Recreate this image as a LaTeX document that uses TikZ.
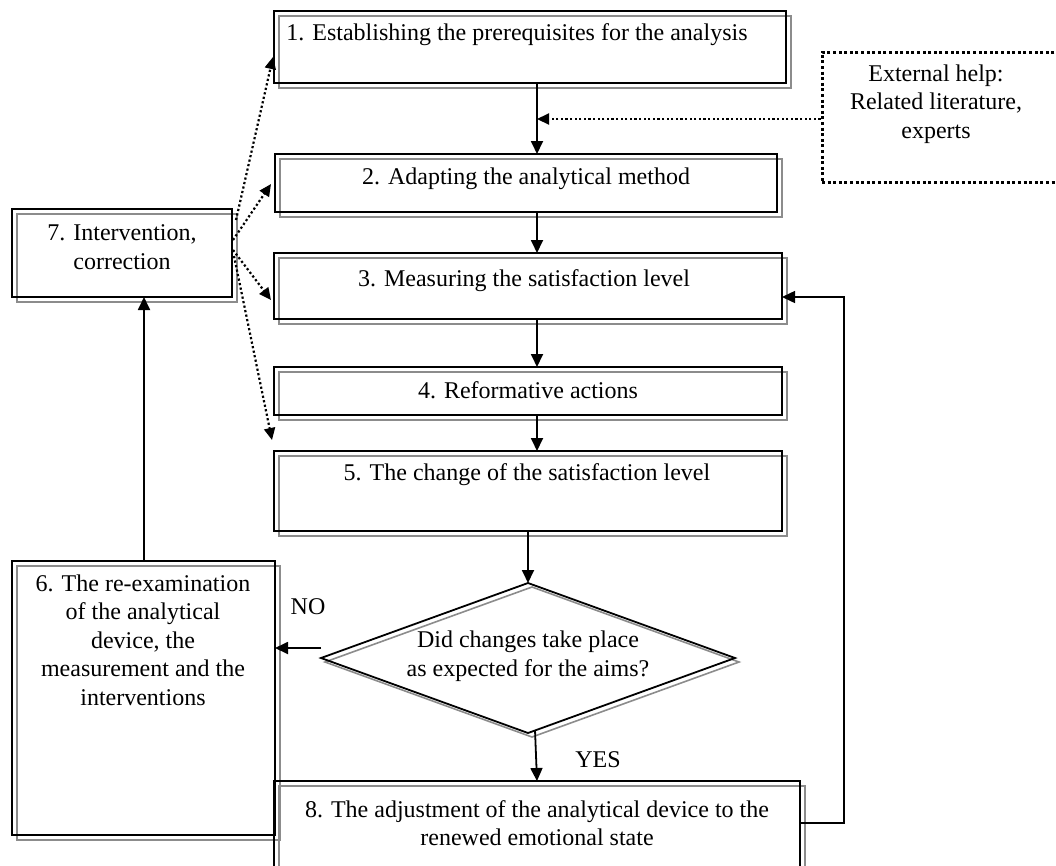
\documentclass[tikz,border=0pt]{standalone}
\usepackage{fontspec}
\setmainfont{Liberation Serif}
\usetikzlibrary{arrows.meta,shapes.geometric,shadows,calc}
\begin{document}
\begin{tikzpicture}[x=1pt,y=-1pt,
  box/.style={rectangle, draw=black, line width=1.8pt, inner sep=0pt, outer sep=0pt,
    general shadow={shadow xshift=5pt, shadow yshift=-5pt, draw=black!45, line width=1.6pt}},
  dia/.style={diamond, draw=black, line width=1.8pt, inner sep=0pt, outer sep=0pt,
    general shadow={shadow xshift=4pt, shadow yshift=-4pt, draw=black!45, line width=1.6pt}},
  extbox/.style={rectangle, draw=black, line width=3pt, dash pattern=on 3pt off 2.6pt, inner sep=0pt},
  txt/.style={font=\fontsize{24}{28.5}\selectfont, align=center, inner sep=0pt},
  arr/.style={line width=1.8pt, -{Triangle[length=13pt,width=12pt]}},
  thinarr/.style={line width=1.5pt, -{Triangle[length=13pt,width=12pt]}},
  darr/.style={line width=2.2pt, dash pattern=on 2.2pt off 2.4pt, -{Triangle[length=12pt,width=11pt]}}
]
\useasboundingbox (0,0) rectangle (1056,865);
\clip (0,0) rectangle (1056,865);
\fill[white] (0,0) rectangle (1056,865);

% boxes
\node[box, minimum width=512pt, minimum height=72pt] (b1) at (530,47) {};
\node[box, minimum width=502pt, minimum height=58pt] (b2) at (526,183) {};
\node[box, minimum width=508pt, minimum height=66pt] (b3) at (528,286) {};
\node[box, minimum width=508pt, minimum height=48pt] (b4) at (528,391) {};
\node[box, minimum width=508pt, minimum height=80pt] (b5) at (528,491) {};
\node[dia, minimum width=414pt, minimum height=150pt] (d) at (528,658) {};
\node[box, minimum width=263pt, minimum height=274pt] (b6) at (143.5,698) {};
\node[box, minimum width=220pt, minimum height=88pt] (b7) at (122,253) {};
\node[box, minimum width=526pt, minimum height=130pt] (b8) at (537,846) {};
\node[extbox, minimum width=250pt, minimum height=130pt] (ext) at (947,117) {};

% texts
\node[txt] (t1) at (517,35) {1. Establishing the prerequisites for the analysis};
\node[txt] (t2) at (526,179) {2. Adapting the analytical method};
\node[txt] (t3) at (524,281) {3. Measuring the satisfaction level};
\node[txt] (t4) at (528,390) {4. Reformative actions};
\node[txt] (t5) at (527,475) {5. The change of the satisfaction level};
\node[txt] (td) at (528,656) {Did changes take place\\as expected for the aims?};
\node[txt] (t6) at (143,640) {6. The re-examination\\of the analytical\\device, the\\measurement and the\\interventions};
\node[txt] (t7) at (122,247) {7. Intervention,\\correction};
\node[txt] (t8) at (537,823) {8. The adjustment of the analytical device to the\\renewed emotional state};
\node[txt] (te) at (936,104) {External help:\\Related literature,\\experts};
\node[txt] (no) at (308,607) {NO};
\node[txt] (yes) at (598,760) {YES};

% helper coordinates
\coordinate (vx) at (537,0);
\coordinate (ey) at (0,119);
\coordinate (noy) at (0,648);
\coordinate (fby) at (0,823);
\coordinate (fbx) at (844,297);
\coordinate (d4) at (272,440);

% main flow
\draw[arr] (b1.south -| vx) -- (b2.north -| vx);
\draw[arr] (b2.south -| vx) -- (b3.north -| vx);
\draw[arr] (b3.south -| vx) -- (b4.north -| vx);
\draw[arr] (b4.south -| vx) -- (b5.north -| vx);
\draw[arr] (b5.south -| d.north) -- (d.north);
\draw[arr] ($(d.south)+(7,-3)$) -- (b8.north -| vx);
\draw[arr] (d.west |- noy) -- (b6.east |- noy);
\draw[arr] (b6.north -| 144,0) -- (b7.south -| 144,0);

% feedback
\draw[thinarr] (b8.east |- fby) -- (fbx |- fby) -- (fbx) -- (b3.east |- fbx);

% external help
\draw[darr] (ext.west |- ey) -- (vx |- ey);

% dotted from 7
\draw[darr] ($(b7.east)+(4,-33)$) -- ($(b1.west)+(-1,10)$);
\draw[darr] ($(b7.east)+(1,-13)$) -- ($(b2.west)+(-4,1)$);
\draw[darr] ($(b7.east)+(1,-3)$) -- ($(b3.west)+(-3,14)$);
\draw[darr] ($(b7.east)+(2,3)$) -- (d4);
\end{tikzpicture}
\end{document}
